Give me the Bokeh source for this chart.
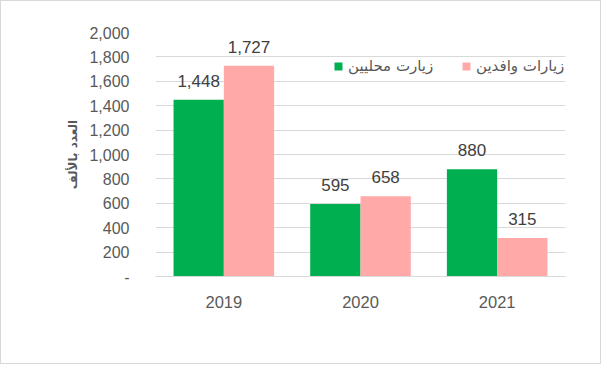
from bokeh.plotting import figure
from bokeh.models import (ColumnDataSource, FactorRange, Range1d, Legend, LegendItem,
                          FixedTicker, NumeralTickFormatter)
from bokeh.transform import dodge
from bokeh.core.properties import value
from bokeh.embed import file_html
from bokeh.resources import INLINE

# ---- data ----
years = ["2019", "2020", "2021"]
local_visits = [1448, 595, 880]
inbound_visits = [1727, 658, 315]
series_names = ["زيارت محليين", "زيارات وافدين"]
y_ticks = [0, 200, 400, 600, 800, 1000, 1200, 1400, 1600, 1800, 2000]
y_axis_title = "العدد بالألف"

GREEN = "#00B050"
PINK = "#FFA9A9"
GRID = "#D9D9D9"
AXIS_TEXT = "#595959"
LABEL_TEXT = "#404040"
FONT = "Liberation Sans"

src = ColumnDataSource(dict(
    year=years,
    local=local_visits,
    inbound=inbound_visits,
    local_lbl=[f"{v:,}" for v in local_visits],
    inbound_lbl=[f"{v:,}" for v in inbound_visits],
))

p = figure(width=601, height=364, output_backend="svg", toolbar_location=None,
           x_range=FactorRange(factors=years, range_padding=0),
           y_range=Range1d(0, 2000),
           min_border_left=154, min_border_right=37,
           min_border_top=31, min_border_bottom=89)
p.styles = {"border": "1px solid #D9D9D9"}
p.outline_line_color = None
p.background_fill_color = "white"
p.border_fill_color = "white"

off = 0.184
bw = 0.368
r1 = p.vbar(x=dodge("year", -off, range=p.x_range), top="local", width=bw,
            source=src, fill_color=GREEN, line_color=None)
r2 = p.vbar(x=dodge("year", off, range=p.x_range), top="inbound", width=bw,
            source=src, fill_color=PINK, line_color=None)

p.text(x=dodge("year", -off, range=p.x_range), y="local", text="local_lbl", source=src,
       text_align="center", text_baseline="alphabetic", y_offset=-19,
       text_font=value(FONT), text_font_size="17px", text_color=LABEL_TEXT)
p.text(x=dodge("year", off, range=p.x_range), y="inbound", text="inbound_lbl", source=src,
       text_align="center", text_baseline="alphabetic", y_offset=-19,
       text_font=value(FONT), text_font_size="17px", text_color=LABEL_TEXT)

# grid
p.xgrid.grid_line_color = None
p.ygrid.grid_line_color = GRID
p.ygrid.grid_line_width = 1
p.ygrid.ticker = FixedTicker(ticks=y_ticks)

# y axis
ya = p.yaxis[0]
ya.ticker = FixedTicker(ticks=y_ticks)
ya.formatter = NumeralTickFormatter(format="0,0")
ya.major_label_overrides = {0: "-"}
ya.axis_line_color = None
ya.major_tick_line_color = None
ya.minor_tick_line_color = None
ya.major_label_standoff = 20
ya.major_label_text_font = FONT
ya.major_label_text_font_size = "16px"
ya.major_label_text_color = AXIS_TEXT
ya.axis_label = y_axis_title
ya.axis_label_text_font = "DejaVu Sans"
ya.axis_label_text_font_style = "bold"
ya.axis_label_text_font_size = "12px"
ya.axis_label_text_color = AXIS_TEXT
ya.axis_label_standoff = 6

# x axis
xa = p.xaxis[0]
xa.axis_line_color = GRID
xa.major_tick_line_color = None
xa.minor_tick_line_color = None
xa.major_label_standoff = 13
xa.major_label_text_font = FONT
xa.major_label_text_font_size = "16.5px"
xa.major_label_text_color = AXIS_TEXT

# legends (one per item, positioned independently)
for r, name, xpos in [(r1, series_names[0], 178), (r2, series_names[1], 306)]:
    lg = Legend(items=[LegendItem(label=name, renderers=[r])],
                location=(xpos, 201), orientation="horizontal",
                padding=0, margin=0, spacing=0, label_standoff=5,
                glyph_width=10, glyph_height=10, label_height=16,
                label_text_font="DejaVu Sans", label_text_font_size="15px",
                label_text_color=AXIS_TEXT, border_line_color=None,
                background_fill_alpha=0)
    p.add_layout(lg, "center")

open("out.html", "w").write(file_html(p, INLINE))
